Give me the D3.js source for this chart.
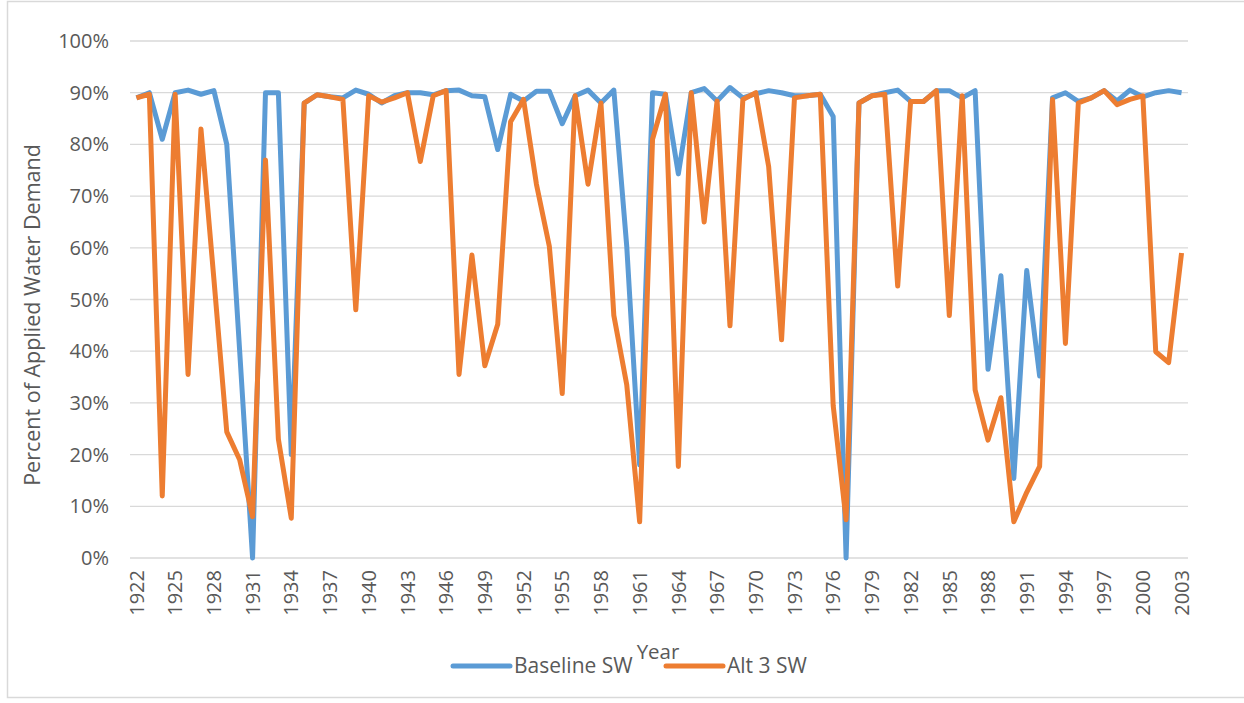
<!DOCTYPE html>
<html>
<head>
<meta charset="utf-8">
<script src="https://cdn.jsdelivr.net/npm/d3@7"></script>
<style>
  body { margin: 0; background: #fff; }
  text { font-family: "Open Sans", sans-serif; fill: #595959; }
</style>
</head>
<body>
<script>
// chart values
var years = d3.range(1922, 2004);

var baselineSW = [89, 90, 81, 90, 90.5, 89.7, 90.4, 80, 40, 0,
  90, 90, 20, 88, 89.6, 89.2, 89, 90.5, 89.7, 88,
  89.4, 90, 90, 89.6, 90.4, 90.5, 89.4, 89.2, 79, 89.7,
  88.4, 90.3, 90.3, 84, 89.4, 90.5, 88, 90.5, 60.3, 18,
  90, 89.7, 74.3, 90, 90.8, 88.4, 91, 89, 89.8, 90.4,
  90, 89.4, 89.4, 89.7, 85.4, 0, 88, 89.4, 90, 90.5,
  88.3, 88.3, 90.4, 90.4, 89, 90.4, 36.5, 54.6, 15.4, 55.6,
  35.2, 89, 90, 88.3, 89, 90.4, 88.4, 90.5, 89.2, 90,
  90.4, 90];

var alt3SW = [89, 89.7, 12, 89.7, 35.5, 83, 54, 24.4, 19, 8,
  77, 23, 7.7, 88, 89.6, 89.2, 88.7, 48, 89.4, 88.2,
  89, 90, 76.7, 89.4, 90.4, 35.5, 58.6, 37.2, 45.2, 84.4,
  88.7, 72.3, 60.3, 31.8, 89.4, 72.3, 88, 46.9, 33.5, 7,
  81, 89.7, 17.7, 90, 65, 88.4, 44.9, 88.7, 90, 75.7,
  42.2, 89, 89.4, 89.7, 29.5, 7.4, 88, 89.4, 89.7, 52.6,
  88.3, 88.3, 90.4, 46.9, 89.4, 32.5, 22.8, 31, 7, 12.7,
  17.7, 88.7, 41.5, 88, 89, 90.4, 87.7, 88.7, 89.4, 39.9,
  37.8, 59];

var yTicks = [0, 10, 20, 30, 40, 50, 60, 70, 80, 90, 100];
var xTickYears = years.filter(function(y){ return (y - 1922) % 3 === 0; });

var seriesNames = ["Baseline SW", "Alt 3 SW"];
var seriesColors = ["#5B9BD5", "#ED7D31"];

var width = 1244,
    height = 703;

var svg = d3.select("body")
    .append("svg")
    .attr("width", width)
    .attr("height", height);

// frame round the chart
svg.append("path")
    .attr("d", "M1250,1.5 H7.5 V697.5 H1250")
    .attr("fill", "none")
    .attr("stroke", "#d9d9d9")
    .attr("stroke-width", 1.5);

var x = d3.scalePoint()
    .domain(years)
    .range([130, 1188])
    .padding(0.5);

var y = d3.scaleLinear()
    .domain([0, 100])
    .range([558, 41]);

// gridlines
svg.selectAll(".grid")
    .data(yTicks)
    .enter()
    .append("line")
    .attr("class", "grid")
    .attr("x1", 130)
    .attr("x2", 1188)
    .attr("y1", function(d){ return y(d); })
    .attr("y2", function(d){ return y(d); })
    .attr("stroke", "#d9d9d9")
    .attr("stroke-width", 1.3);

// y axis labels
svg.selectAll(".ylab")
    .data(yTicks)
    .enter()
    .append("text")
    .attr("class", "ylab")
    .attr("x", 109)
    .attr("y", function(d){ return y(d); })
    .attr("dy", "0.35em")
    .attr("text-anchor", "end")
    .style("font-size", "20px")
    .text(function(d){ return d + "%"; });

// x axis labels, every third year
svg.selectAll(".xlab")
    .data(xTickYears)
    .enter()
    .append("text")
    .attr("class", "xlab")
    .attr("transform", function(d){ return "translate(" + x(d) + ",570) rotate(-90)"; })
    .attr("dy", "0.36em")
    .attr("text-anchor", "end")
    .style("font-size", "20px")
    .text(function(d){ return d; });

// lines, orange on top
var line = d3.line()
    .x(function(d){ return x(d[0]); })
    .y(function(d){ return y(d[1]); });

[baselineSW, alt3SW].forEach(function(vals, i){
    svg.append("path")
        .datum(years.map(function(yr, j){ return [yr, vals[j]]; }))
        .attr("fill", "none")
        .attr("stroke", seriesColors[i])
        .attr("stroke-width", 5)
        .attr("stroke-linejoin", "round")
        .attr("d", line);
});

// axis titles
svg.append("text")
    .attr("transform", "translate(40,315) rotate(-90)")
    .attr("text-anchor", "middle")
    .style("font-size", "21.5px")
    .text("Percent of Applied Water Demand");

svg.append("text")
    .attr("x", 658)
    .attr("y", 659)
    .attr("text-anchor", "middle")
    .style("font-size", "20.5px")
    .text("Year");

// legend
var legendX = [453, 666];
seriesNames.forEach(function(name, i){
    svg.append("line")
        .attr("x1", legendX[i])
        .attr("x2", legendX[i] + 57)
        .attr("y1", 666)
        .attr("y2", 666)
        .attr("stroke", seriesColors[i])
        .attr("stroke-width", 5)
        .attr("stroke-linecap", "round");
    svg.append("text")
        .attr("x", legendX[i] + 61)
        .attr("y", 673)
        .style("font-size", "21px")
        .text(name);
});
</script>
</body>
</html>
